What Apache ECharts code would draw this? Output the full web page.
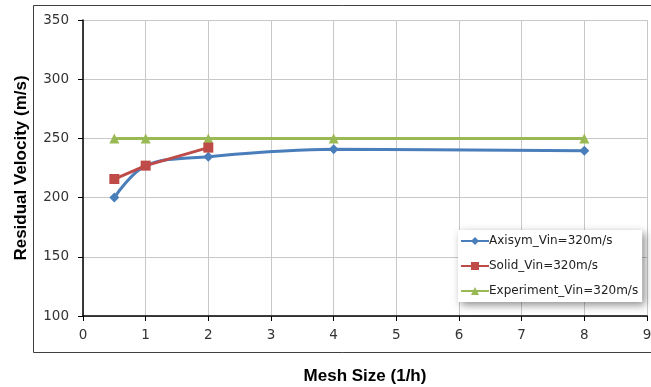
<!DOCTYPE html>
<html>
<head>
<meta charset="utf-8">
<script src="https://cdn.jsdelivr.net/npm/echarts@6/dist/echarts.min.js"></script>
<style>
html, body { margin: 0; padding: 0; background: #fff; }
#chart { width: 651px; height: 387px; }
</style>
</head>
<body>
<div id="chart"></div>
<script>
// mesh size (1/h) and residual velocity (m/s)
var axisymX = [0.5, 1, 2, 4, 8];
var axisymY = [200, 227, 234.6, 240.8, 239.5];
var solidX = [0.5, 1, 2];
var solidY = [215.7, 227, 242.2];
var expX = [0.5, 1, 2, 4, 8];
var expY = [250, 250, 250, 250, 250];

function pairs(xs, ys) {
	var out = [];
	for (var i = 0; i < xs.length; i++) {
		out.push([xs[i], ys[i]]);
	}
	return out;
}

var font = 'DejaVu Sans';

var option = {
	animation : false,
	textStyle : { fontFamily : font },
	graphic : [ {
		type : 'rect',
		shape : { x : 33.5, y : 5.5, width : 630, height : 347 },
		style : { fill : 'none', stroke : '#404040', lineWidth : 1 },
		z : -1
	} ],
	grid : { left : 83, top : 20, right : 4, bottom : 71, outerBoundsMode : 'none' },
	legend : {
		orient : 'vertical',
		left : 458,
		top : 230,
		padding : [ 5, 4, 5, 2 ],
		itemGap : 13,
		itemWidth : 28,
		itemHeight : 10,
		backgroundColor : '#fff',
		shadowBlur : 8,
		shadowColor : 'rgba(0,0,0,0.45)',
		shadowOffsetX : 3,
		shadowOffsetY : 3,
		textStyle : { fontFamily : font, fontSize : 12, color : '#222', padding : [ 0, 0, 0, -5 ] },
		data : [ 'Axisym_Vin=320m/s', 'Solid_Vin=320m/s', 'Experiment_Vin=320m/s' ]
	},
	xAxis : {
		type : 'value',
		min : 0,
		max : 9,
		interval : 1,
		name : 'Mesh Size (1/h)',
		nameLocation : 'middle',
		nameGap : 52,
		nameTextStyle : { fontFamily : 'Liberation Sans', fontWeight : 'bold', fontSize : 17, color : '#000' },
		axisLine : { lineStyle : { color : '#000', width : 1.5 } },
		axisTick : { show : true, length : 5, lineStyle : { color : '#000' } },
		axisLabel : { fontSize : 13.5, color : '#333', margin : 12 },
		splitLine : { show : true, lineStyle : { color : '#c8c8c8', width : 1 } }
	},
	yAxis : {
		type : 'value',
		min : 100,
		max : 350,
		interval : 50,
		name : 'Residual Velocity (m/s)',
		nameLocation : 'middle',
		nameGap : 53,
		nameTextStyle : { fontFamily : 'Liberation Sans', fontWeight : 'bold', fontSize : 17, color : '#000' },
		axisLine : { show : true, lineStyle : { color : '#000', width : 1.5 } },
		axisTick : { show : true, length : 5, lineStyle : { color : '#000' } },
		axisLabel : { fontSize : 13.5, color : '#333', margin : 14 },
		splitLine : { show : true, lineStyle : { color : '#c8c8c8', width : 1 } }
	},
	series : [ {
		name : 'Axisym_Vin=320m/s',
		type : 'line',
		smooth : 0.35,
		symbol : 'diamond',
		symbolSize : 10,
		color : '#4a7ebb',
		lineStyle : { width : 3 },
		data : pairs(axisymX, axisymY),
		z : 3
	}, {
		name : 'Solid_Vin=320m/s',
		type : 'line',
		symbol : 'rect',
		symbolSize : 10,
		color : '#be4b48',
		lineStyle : { width : 3 },
		data : pairs(solidX, solidY),
		z : 4
	}, {
		name : 'Experiment_Vin=320m/s',
		type : 'line',
		symbol : 'triangle',
		symbolSize : 10,
		color : '#98b954',
		lineStyle : { width : 3 },
		data : pairs(expX, expY),
		z : 2
	} ]
};

var myChart = echarts.init(document.getElementById('chart'));
myChart.setOption(option);
</script>
</body>
</html>
